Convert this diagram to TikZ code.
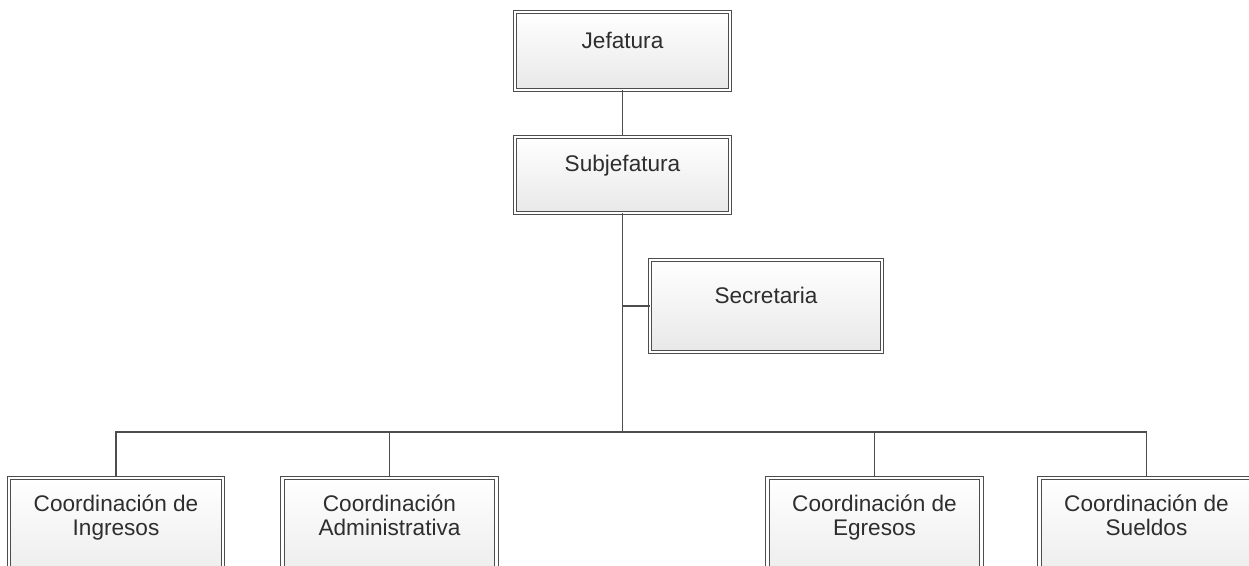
\documentclass[tikz,border=0pt]{standalone}
\usepackage{fontspec}
\setmainfont{Liberation Sans}
\usetikzlibrary{shadows}
\definecolor{linegray}{HTML}{4D4D4D}
\definecolor{textgray}{HTML}{2E2E2E}
\begin{document}
\begin{tikzpicture}[x=0.5pt, y=-0.5pt,
    box/.style={rectangle, draw=linegray, line width=0.5pt, double=white, double distance=1.2pt,
        top color=white, bottom color=black!9, minimum width=107.5pt, inner sep=0pt,
        drop shadow={opacity=0.22, shadow xshift=1.2pt, shadow yshift=-1.2pt}},
    lbl/.style={font=\fontsize{11.3}{12.2}\selectfont, text=textgray, align=center, inner sep=0pt, anchor=north},
    conn/.style={draw=linegray, line width=0.65pt}
]
    \useasboundingbox (0,0) rectangle (1249,566);
    \clip (0,0) rectangle (1249,566);

    \node[box, minimum height=39pt, label={[lbl, yshift=-10pt]north:Jefatura}] (jef) at (622.5,51) {};
    \node[box, minimum height=38pt, label={[lbl, yshift=-9pt]north:Subjefatura}] (sub) at (622.5,175) {};
    \node[box, minimum width=116pt, minimum height=46pt, label={[lbl, yshift=-13.5pt]north:Secretaria}] (sec) at (766,306) {};

    \node[box, minimum width=107pt, minimum height=60pt, label={[lbl, yshift=-8.5pt]north:Coordinación de\\Ingresos}] (ing) at (116,538) {};
    \node[box, minimum width=107pt, minimum height=60pt, label={[lbl, yshift=-8.5pt]north:Coordinación\\Administrativa}] (adm) at (389.5,538) {};
    \node[box, minimum width=107pt, minimum height=60pt, label={[lbl, yshift=-8.5pt]north:Coordinación de\\Egresos}] (egr) at (874.5,538) {};
    \node[box, minimum width=107pt, minimum height=60pt, label={[lbl, yshift=-8.5pt]north:Coordinación de\\Sueldos}] (sue) at (1146.5,538) {};

    \coordinate (bus) at (622.5,432);
    \draw[conn] (jef) -- (sub);
    \draw[conn] (sub) -- (bus);
    \draw[conn] (sec.west) -- (sec.west -| sub.south);
    \draw[conn] (ing.north) |- (bus) -| (sue.north);
    \draw[conn] (adm.north) -- (adm.north |- bus);
    \draw[conn] (egr.north) -- (egr.north |- bus);
\end{tikzpicture}
\end{document}
